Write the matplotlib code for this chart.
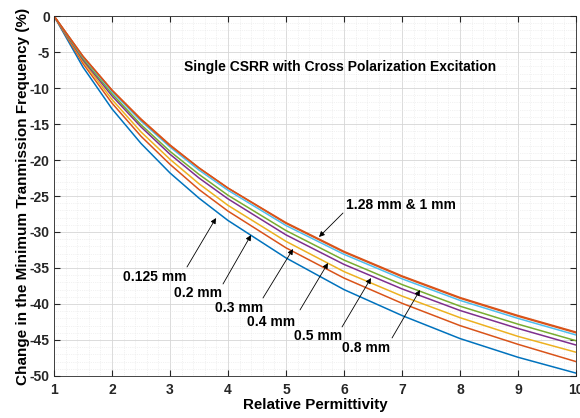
import matplotlib.pyplot as plt
from matplotlib.ticker import MultipleLocator

plt.rcParams['font.family'] = ['Liberation Sans', 'DejaVu Sans']
plt.rcParams['font.weight'] = 'bold'
plt.rcParams['axes.unicode_minus'] = False

# relative permittivity of the sample
eps_r = [1, 1.5, 2, 2.5, 3, 3.5, 4, 5, 6, 7, 8, 9, 10]

# change of the minimum transmission frequency (%) per substrate thickness
shift_0125 = [0, -7.1, -12.9, -17.7, -21.8, -25.3, -28.4, -33.6, -38.0, -41.6, -44.8, -47.4, -49.6]
shift_02 = [0, -6.6, -12.1, -16.7, -20.6, -24.1, -27.1, -32.2, -36.4, -39.9, -43.0, -45.6, -48.0]
shift_03 = [0, -6.3, -11.6, -16.1, -19.9, -23.3, -26.3, -31.3, -35.5, -38.9, -41.9, -44.5, -46.7]
shift_04 = [0, -6.1, -11.1, -15.4, -19.2, -22.5, -25.4, -30.4, -34.5, -37.9, -40.9, -43.4, -45.7]
shift_05 = [0, -5.9, -10.8, -15.1, -18.8, -22.0, -24.9, -29.8, -33.9, -37.3, -40.3, -42.8, -45.1]
shift_08 = [0, -5.7, -10.5, -14.6, -18.2, -21.4, -24.2, -29.1, -33.1, -36.5, -39.5, -42.0, -44.3]
shift_1 = [0, -5.6, -10.3, -14.4, -18.0, -21.1, -23.9, -28.8, -32.8, -36.2, -39.2, -41.7, -44.0]
shift_128 = [0, -5.6, -10.3, -14.3, -17.9, -21.1, -23.9, -28.7, -32.7, -36.1, -39.1, -41.6, -43.9]

series = [shift_0125, shift_02, shift_03, shift_04, shift_05, shift_08, shift_1, shift_128]
colors = ['#0072BD', '#D95319', '#EDB120', '#7E2F8E', '#77AC30', '#4DBEEE', '#D95319', '#D95319']

fig = plt.figure(figsize=(5.8, 4.18), dpi=100)
ax = fig.add_axes([0.0931, 0.1005, 0.9, 0.8612])

for ys, c in zip(series, colors):
    ax.plot(eps_r, ys, color=c, lw=1.1)

ax.set_xlim(1, 10)
ax.set_ylim(-50, 0)
ax.xaxis.set_major_locator(MultipleLocator(1))
ax.xaxis.set_minor_locator(MultipleLocator(0.2))
ax.yaxis.set_major_locator(MultipleLocator(5))
ax.yaxis.set_minor_locator(MultipleLocator(1))

ax.grid(which='major', color='#d6d6d6', lw=0.6)
ax.grid(which='minor', color='#e6e6e6', lw=0.5, ls=':')
ax.set_axisbelow(True)
ax.tick_params(which='both', direction='in', top=True, right=True, colors='#262626')
ax.tick_params(which='major', length=4, labelsize=10)
ax.tick_params(axis='x', which='major', pad=5)
ax.tick_params(axis='y', which='major', pad=3)
ax.tick_params(which='minor', length=0)
for lbl in ax.get_xticklabels() + ax.get_yticklabels():
    lbl.set_fontweight('bold')
for s in ax.spines.values():
    s.set_color('#262626')
    s.set_linewidth(0.6)

ax.set_xlabel('Relative Permittivity', fontsize=10.9, fontweight='bold', labelpad=1)
ax.set_ylabel('Change in the Minimum Tranmission Frequency (%)', fontsize=11,
              fontweight='bold', labelpad=0)

ax.text(5.94, -7.08, 'Single CSRR with Cross Polarization Excitation',
        fontsize=10, fontweight='bold', ha='center', va='center')

# labels with arrows: (text, text position, arrow tail, arrow tip)
notes = [
    ('0.125 mm', (2.741, -36.25), (3.293, -34.86), (3.793, -28.06)),
    ('0.2 mm', (3.483, -38.47), (3.914, -37.22), (4.397, -30.42)),
    ('0.3 mm', (4.190, -40.56), (4.603, -39.17), (5.121, -32.36)),
    ('0.4 mm', (4.741, -42.50), (5.241, -40.83), (5.724, -34.31)),
    ('0.5 mm', (5.552, -44.44), (5.966, -43.19), (6.466, -36.39)),
    ('0.8 mm', (6.379, -46.11), (6.828, -44.72), (7.310, -38.06)),
    ('1.28 mm & 1 mm', (6.983, -26.25), (5.983, -27.36), (5.569, -30.69)),
]
for txt, pos, tail, tip in notes:
    ax.text(pos[0], pos[1], txt, fontsize=10, fontweight='bold', ha='center', va='center')
    ax.annotate('', xy=tip, xytext=tail,
                arrowprops=dict(arrowstyle='-|>', color='black', lw=0.6,
                                mutation_scale=8, shrinkA=0, shrinkB=0))

fig.savefig('out.png', dpi=100)
